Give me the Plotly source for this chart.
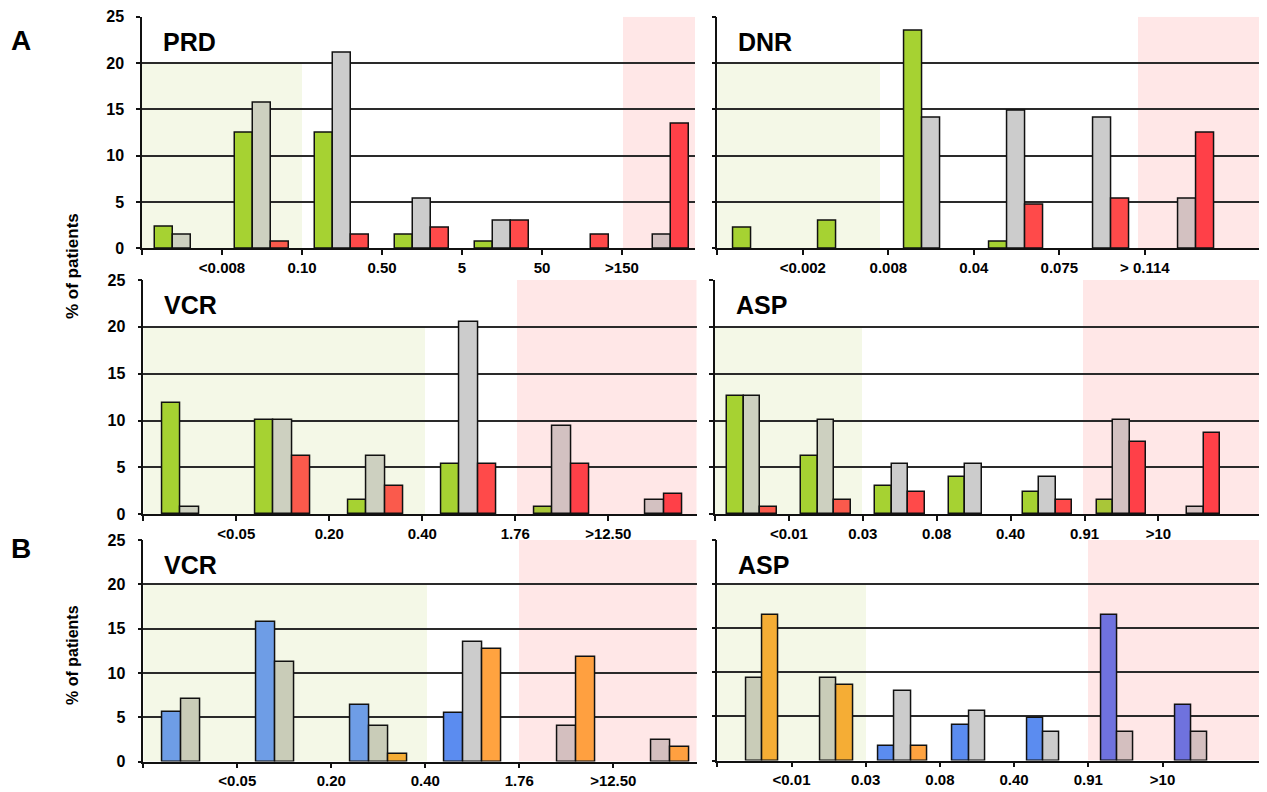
import plotly.graph_objects as go

# ---------------- data ----------------
prd_labels = ["<0.008", "0.10", "0.50", "5", "50", ">150"]
prd_green = [2.3, 12.5, 12.5, 1.5, 0.7, 0, 0]
prd_gray = [1.5, 15.7, 21.1, 5.4, 3.0, 0, 1.5]
prd_red = [0, 0.75, 1.5, 2.2, 3.0, 1.5, 13.4]

dnr_labels = ["<0.002", "0.008", "0.04", "0.075", "> 0.114"]
dnr_green = [2.2, 3.0, 23.5, 0.7, 0, 0]
dnr_gray = [0, 0, 14.1, 14.9, 14.1, 5.4]
dnr_red = [0, 0, 0, 4.7, 5.4, 12.5]

vcr_a_labels = ["<0.05", "0.20", "0.40", "1.76", ">12.50"]
vcr_a_green = [11.85, 10.1, 1.5, 5.4, 0.8, 0]
vcr_a_gray = [0.8, 10.1, 6.2, 20.5, 9.4, 1.5]
vcr_a_red = [0, 6.2, 3.0, 5.4, 5.4, 2.2]

asp_a_labels = ["<0.01", "0.03", "0.08", "0.40", "0.91", ">10"]
asp_a_green = [12.6, 6.2, 3.0, 3.95, 2.4, 1.5, 0]
asp_a_gray = [12.6, 10.1, 5.4, 5.4, 3.95, 10.1, 0.8]
asp_a_red = [0.8, 1.5, 2.4, 0, 1.5, 7.7, 8.65]

vcr_b_labels = ["<0.05", "0.20", "0.40", "1.76", ">12.50"]
vcr_b_blue = [5.55, 15.7, 6.35, 5.5, 0, 0]
vcr_b_gray = [7.1, 11.2, 4.0, 13.5, 4.0, 2.4]
vcr_b_orange = [0, 0, 0.8, 12.7, 11.8, 1.6]

asp_b_labels = ["<0.01", "0.03", "0.08", "0.40", "0.91", ">10"]
asp_b_blue = [0, 0, 1.6, 4.05, 4.85, 16.55, 6.3]
asp_b_gray = [9.4, 9.4, 7.85, 5.65, 3.2, 3.2, 3.2]
asp_b_orange = [16.55, 8.6, 1.6, 0, 0, 0, 0]

titles = ["PRD", "DNR", "VCR", "ASP", "VCR", "ASP"]
y_ticks = [0, 5, 10, 15, 20, 25]

# ---------------- layout geometry (page pixels) ----------------
OFF = 8                 # page margin around the figure
W, H = 1267 - 2 * OFF, 792 - OFF
RIGHT_END = OFF + W

def fx(px):
    return (px - OFF) / W

def fy(py):
    return 1 - (py - OFF) / H

panels = [
    dict(labels=prd_labels, series=[prd_green, prd_gray, prd_red], kind="A",
         x0=142.0, cat=80.0, x1=695.0, y0=16.7, y1=248.3, bw=17.7, g=302, r=623),
    dict(labels=dnr_labels, series=[dnr_green, dnr_gray, dnr_red], kind="A",
         x0=717.3, cat=85.5, x1=RIGHT_END, y0=16.7, y1=248.3, bw=18.0, g=880, r=1138),
    dict(labels=vcr_a_labels, series=[vcr_a_green, vcr_a_gray, vcr_a_red], kind="A",
         x0=143.3, cat=93.0, x1=696.7, y0=280.0, y1=514.3, bw=18.5, g=425, r=517),
    dict(labels=asp_a_labels, series=[asp_a_green, asp_a_gray, asp_a_red], kind="A",
         x0=715.0, cat=73.9, x1=RIGHT_END, y0=280.0, y1=514.3, bw=16.5, g=862, r=1083),
    dict(labels=vcr_b_labels, series=[vcr_b_blue, vcr_b_gray, vcr_b_orange], kind="B",
         x0=143.3, cat=94.0, x1=696.7, y0=540.0, y1=761.5, bw=19.0, g=427, r=519),
    dict(labels=asp_b_labels, series=[asp_b_blue, asp_b_gray, asp_b_orange], kind="B",
         x0=717.3, cat=74.2, x1=RIGHT_END, y0=540.0, y1=760.5, bw=16.2, g=866, r=1088),
]

GREEN_BG = "#f4f8e7"
RED_BG = "#ffe7e7"

pal = {
    "A": [
        {"g": "#a6d232", "w": "#a6d232", "r": "#a9c638"},
        {"g": "#cdd0c0", "w": "#cccccc", "r": "#d3c1c1"},
        {"g": "#fa5a4c", "w": "#ff4a4a", "r": "#ff4048"},
    ],
    "B": [
        {"g": "#6e9de6", "w": "#5b8cf0", "r": "#6f72de"},
        {"g": "#c9ccb8", "w": "#cccccc", "r": "#d4bfbf"},
        {"g": "#f5ad35", "w": "#ffa340", "r": "#ffa040"},
    ],
}

FONT = "Liberation Sans, Arial, sans-serif"
fig = go.Figure()
shapes = []
annotations = []

for k, p in enumerate(panels):
    idx = "" if k == 0 else str(k + 1)
    xa, ya = "x" + idx, "y" + idx
    n = len(p["series"][0])
    cat = p["cat"]
    xmax = (p["x1"] - p["x0"]) / cat
    g_end = (p["g"] - p["x0"]) / cat
    r_start = (p["r"] - p["x0"]) / cat
    centers = [i + 0.5 for i in range(n)]
    w = p["bw"] / cat

    def zone(i):
        c = i + 0.5
        if c < g_end:
            return "g"
        if c > r_start:
            return "r"
        return "w"

    for s, vals in enumerate(p["series"]):
        colors = [pal[p["kind"]][s][zone(i)] for i in range(n)]
        yv = [v if v > 0 else None for v in vals]
        fig.add_trace(go.Bar(
            x=centers, y=yv, width=w, offset=-1.5 * w + s * w,
            marker=dict(color=colors, line=dict(color="#111111", width=1.5)),
            xaxis=xa, yaxis=ya, showlegend=False, hoverinfo="y",
        ))
    left_col = p["x0"] < 400
    tickvals = list(range(0, len(p["labels"]) + 1))
    ticktext = [""] + p["labels"]
    fig.update_layout(**{
        "xaxis" + idx: dict(
            domain=[fx(p["x0"]), min(1.0, fx(p["x1"]))], range=[0, xmax], anchor=ya,
            tickvals=tickvals, ticktext=ticktext, ticks="outside", ticklen=5,
            tickwidth=1.5, tickcolor="#111", showgrid=False, zeroline=False,
            showline=True, linecolor="#111", linewidth=1.5, automargin=False,
            tickfont=dict(family=FONT, size=15, color="black", weight="bold"),
            fixedrange=True),
        "yaxis" + idx: dict(
            domain=[fy(p["y1"]), fy(p["y0"])], range=[0, 25.0], anchor=xa,
            tickvals=y_ticks, ticks="outside", ticklen=4,
            tickwidth=1.5, tickcolor="#111", automargin=False,
            showticklabels=left_col,
            tickfont=dict(family=FONT, size=16, color="black", weight="bold"),
            showgrid=True, gridcolor="#2a2a2a", gridwidth=1.5,
            zeroline=False, showline=True, linecolor="#111", linewidth=1.5,
            ticklabelstandoff=9, fixedrange=True),
    })
    shapes.append(dict(type="rect", xref=xa, yref=ya, x0=0, x1=g_end, y0=0, y1=20,
                       fillcolor=GREEN_BG, line=dict(width=0), layer="below"))
    shapes.append(dict(type="rect", xref=xa, yref=ya, x0=r_start, x1=xmax,
                       y0=0, y1=25, fillcolor=RED_BG, line=dict(width=0), layer="below"))
    annotations.append(dict(text="<b>" + titles[k] + "</b>", xref="paper", yref="paper",
                            x=fx(p["x0"] + 19), y=fy(p["y0"] + 25), xanchor="left",
                            yanchor="middle", showarrow=False,
                            font=dict(family=FONT, size=25, color="black")))

for letter, ypx in [("A", 40), ("B", 548)]:
    annotations.append(dict(text="<b>" + letter + "</b>", xref="paper", yref="paper",
                            x=fx(9), y=fy(ypx), xanchor="left", yanchor="middle",
                            showarrow=False, font=dict(family=FONT, size=28, color="black")))
for ypx, sz in [(266, 17), (655, 16)]:
    annotations.append(dict(text="<b>% of patients</b>", xref="paper", yref="paper",
                            x=fx(72), y=fy(ypx), xanchor="center", yanchor="middle",
                            textangle=-90, showarrow=False,
                            font=dict(family=FONT, size=sz, color="black")))

fig.update_layout(width=W, height=H,
                  margin=dict(l=0, r=0, t=0, b=0, pad=0, autoexpand=False),
                  paper_bgcolor="white", plot_bgcolor="white",
                  shapes=shapes, annotations=annotations, bargap=0)

fig.write_html("out.html")
